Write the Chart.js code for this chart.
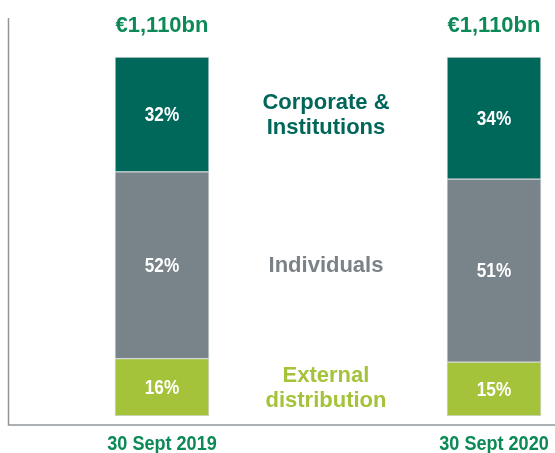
<!DOCTYPE html>
<html>
<head>
<meta charset="utf-8">
<script src="https://cdn.jsdelivr.net/npm/chart.js@4.4.1/dist/chart.umd.min.js"></script>
<style>
    html, body { margin: 0; padding: 0; background: #ffffff; }
    #wrap { position: relative; width: 555px; height: 453px; }
</style>
</head>
<body>
<div id="wrap"><canvas id="aumChart"></canvas></div>
<script>
// Split of assets by client segment, in %
const periods = ["30 Sept 2019", "30 Sept 2020"];
const totalsBn = [1110, 1110];
const externalShare = [16, 15];
const individualsShare = [52, 51];
const corporateShare = [32, 34];
const segmentNames = [["External", "distribution"], ["Individuals"], ["Corporate &", "Institutions"]];
const segmentColors = ["#a5c33a", "#78838a", "#00675b"];
const segmentTextColors = ["#a5c33a", "#7a8288", "#00665a"];

const GREEN = "#0b8a57";
const FONT = '"Liberation Sans", Arial, sans-serif';

// no condensed face installed, so squeeze the regular bold one
function narrowText(ctx, text, x, y, size, squeeze) {
    ctx.save();
    ctx.font = "bold " + size + "px " + FONT;
    ctx.translate(x, y);
    ctx.scale(squeeze, 1);
    ctx.fillText(text, 0, 0);
    ctx.restore();
}

// frame, totals, period labels, in-bar percentages and side captions
const annotate = {
    id: "annotate",
    afterDatasetsDraw(chart) {
        const ctx = chart.ctx;
        const x = chart.scales.x;
        const y = chart.scales.y;
        ctx.save();

        // left and bottom axis lines
        const floor = y.getPixelForValue(0) + 9;
        ctx.strokeStyle = "#8e969a";
        ctx.lineWidth = 1.5;
        ctx.beginPath();
        ctx.moveTo(8.5, 18);
        ctx.lineTo(8.5, floor);
        ctx.lineTo(555, floor);
        ctx.stroke();

        ctx.textAlign = "center";
        ctx.textBaseline = "middle";

        periods.forEach((p, i) => {
            const cx = x.getPixelForValue(i);
            ctx.fillStyle = GREEN;
            ctx.font = "bold 22px " + FONT;
            ctx.fillText("€" + totalsBn[i].toLocaleString("en-US") + "bn", cx, y.getPixelForValue(100) - 31);
            narrowText(ctx, p, cx, floor + 19, 21, 0.86);
        });

        // percentages inside each segment
        ctx.fillStyle = "#ffffff";
        chart.data.datasets.forEach((ds, d) => {
            chart.getDatasetMeta(d).data.forEach((bar, i) => {
                const { x: bx, y: top, base } = bar.getProps(["x", "y", "base"], true);
                narrowText(ctx, ds.data[i] + "%", bx, (top + base) / 2 + 1, 20, 0.86);
            });
        });

        // segment names between the two bars
        const midX = (x.getPixelForValue(0) + x.getPixelForValue(1)) / 2 - 2;
        ctx.font = "bold 22px " + FONT;
        chart.data.datasets.forEach((ds, d) => {
            const bar = chart.getDatasetMeta(d).data[0];
            const { y: top, base } = bar.getProps(["y", "base"], true);
            const cy = (top + base) / 2 + 1;
            const lines = segmentNames[d];
            ctx.fillStyle = segmentTextColors[d];
            lines.forEach((line, k) => {
                ctx.fillText(line, midX, cy + (k - (lines.length - 1) / 2) * 25.5);
            });
        });

        ctx.restore();
    }
};

const shares = [externalShare, individualsShare, corporateShare];

new Chart(document.getElementById("aumChart"), {
    type: "bar",
    data: {
        labels: periods,
        datasets: shares.map((data, d) => ({
            label: segmentNames[d].join(" "),
            data: data,
            backgroundColor: segmentColors[d],
            borderColor: "#d3d7d8",
            borderWidth: 1,
            borderSkipped: false,
            barThickness: 94,
            clip: false
        }))
    },
    options: {
        responsive: true,
        maintainAspectRatio: false,
        animation: false,
        layout: { padding: { left: 162, right: 61, top: 57, bottom: 37 } },
        scales: {
            x: { display: false, stacked: true, offset: false },
            y: { display: false, stacked: true, min: 0, max: 100 }
        },
        plugins: {
            legend: { display: false },
            tooltip: { enabled: false }
        }
    },
    plugins: [annotate]
});
</script>
</body>
</html>
